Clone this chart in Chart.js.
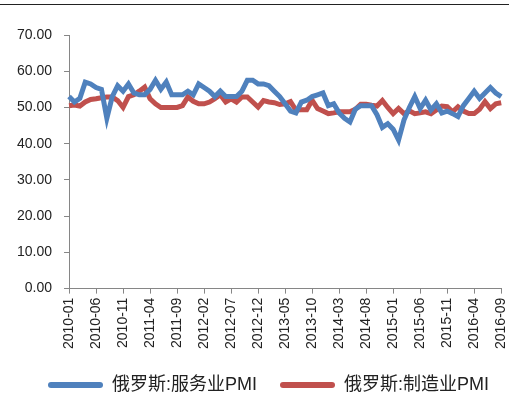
<!DOCTYPE html>
<html>
<head>
<meta charset="utf-8">
<script src="https://cdn.jsdelivr.net/npm/chart.js@4/dist/chart.umd.min.js"></script>
<style>
  html, body { margin: 0; padding: 0; background: #fff; }
  #wrap { position: relative; width: 509px; height: 394px; overflow: hidden; }
  #topline { position: absolute; left: 0; top: 4px; width: 509px; height: 1px; background: #222; z-index: 2; }
</style>
</head>
<body>
<div id="wrap">
  <div id="topline"></div>
  <canvas id="graficoPMI" width="522" height="404"></canvas>
</div>
<script>
// meses 2010-01 .. 2016-09
const meses = [];
for (let ano = 2010; ano <= 2016; ano++) {
  for (let m = 1; m <= 12; m++) {
    if (ano === 2016 && m > 9) break;
    meses.push(ano + '-' + String(m).padStart(2, '0'));
  }
}

const nomeServicos = '俄罗斯:服务业PMI';
const nomeIndustria = '俄罗斯:制造业PMI';

const servicosPMI = [
  53, 51.5, 52.5, 57, 56.5, 55.5, 55, 47, 53, 56, 54.5, 56.5,
  54, 53.5, 53.5, 55, 57.5, 55, 57, 53.5, 53.5, 53.5, 54.5, 53.5,
  56.5, 55.5, 54.5, 53, 54.5, 53, 53, 53, 54.5, 57.5, 57.5, 56.5,
  56.5, 56, 54.5, 53, 51, 49, 48.5, 51.5, 52, 53, 53.5, 54,
  50.5, 51, 48.5, 47, 46, 49.5, 50.5, 50.5, 50.5, 48, 44.5, 45.5,
  44, 41, 46.5, 50, 53, 49.7, 52, 49.3, 51, 48.5, 49, 48.3,
  47.5, 50.5, 52.5, 54.5, 52.5, 54, 55.5, 54, 53
];

const industriaPMI = [
  50.5, 50.7, 50.4, 51.5, 52.2, 52.4, 52.7, 52.9, 52.9, 51.9, 50, 53,
  53.5, 54.5, 55.6, 52.4, 51, 50, 50, 50, 50, 50.5, 52.9, 51.7,
  51, 51, 51.5, 52.4, 53.5, 51.5, 52.4, 51.5, 52.9, 52.9, 51.5, 50.1,
  51.9, 51.5, 51.3, 50.8, 51, 51.6, 49.3, 49.4, 49.4, 52, 49.7, 49,
  48.3, 48.5, 48.8, 48.8, 48.8, 49.5, 50.9, 50.9, 50.6, 50.4, 51.9, 50,
  48.3, 49.7, 48.3, 49.1, 48.3, 48.5, 48.8, 48.3, 49.3, 50.4, 50.2, 48.8,
  50.2, 49, 48.3, 48.3, 49.5, 51.6, 49.7, 51, 51.3
];

const yTicks = [0, 10, 20, 30, 40, 50, 60, 70];

const fonte = '"Liberation Sans", "Noto Sans CJK SC", sans-serif';
const azul = '#4F81BD';
const vermelho = '#C0504D';

// empurra a legenda um pouco para a direita
const deslocaLegenda = {
  id: 'deslocaLegenda',
  afterLayout(chart) {
    if (chart.legend) {
      chart.legend.left += 5;
      chart.legend.right += 5;
    }
  }
};

const ctx = document.getElementById('graficoPMI').getContext('2d');
new Chart(ctx, {
  type: 'line',
  data: {
    labels: meses,
    datasets: [{
      label: nomeServicos,
      data: servicosPMI,
      borderColor: azul,
      backgroundColor: azul,
      borderWidth: 5,
      pointRadius: 0,
      tension: 0
    }, {
      label: nomeIndustria,
      data: industriaPMI,
      borderColor: vermelho,
      backgroundColor: vermelho,
      borderWidth: 5,
      pointRadius: 0,
      tension: 0
    }]
  },
  plugins: [deslocaLegenda],
  options: {
    responsive: false,
    animation: false,
    layout: { padding: { left: 5, right: 0, top: 35, bottom: 0 } },
    plugins: {
      tooltip: { enabled: false },
      legend: {
        position: 'bottom',
        labels: {
          font: { family: fonte, size: 18 },
          color: '#222',
          boxWidth: 55,
          boxHeight: 6,
          padding: 23,
          useBorderRadius: true,
          borderRadius: 3,
          generateLabels: (chart) => Chart.defaults.plugins.legend.labels.generateLabels(chart).map(item => {
            item.lineWidth = 0;
            item.strokeStyle = 'rgba(0,0,0,0)';
            return item;
          })
        }
      }
    },
    scales: {
      x: {
        afterBuildTicks: (axis) => {
          axis.ticks = axis.ticks.filter(t => t.value % 5 === 0);
        },
        ticks: {
          autoSkip: false,
          maxRotation: 90,
          minRotation: 90,
          padding: 4,
          color: '#222',
          font: { family: fonte, size: 14 }
        },
        grid: { drawOnChartArea: false, tickLength: 5, color: '#868686' },
        border: { color: '#868686', width: 1 }
      },
      y: {
        min: 0,
        max: 70,
        afterBuildTicks: (axis) => {
          axis.ticks = yTicks.map(v => ({ value: v }));
        },
        ticks: {
          padding: 12,
          color: '#222',
          font: { family: fonte, size: 14 },
          callback: (v) => Number(v).toFixed(2)
        },
        grid: { drawOnChartArea: false, tickLength: 5, color: '#868686' },
        border: { color: '#868686', width: 1 }
      }
    }
  }
});
</script>
</body>
</html>
